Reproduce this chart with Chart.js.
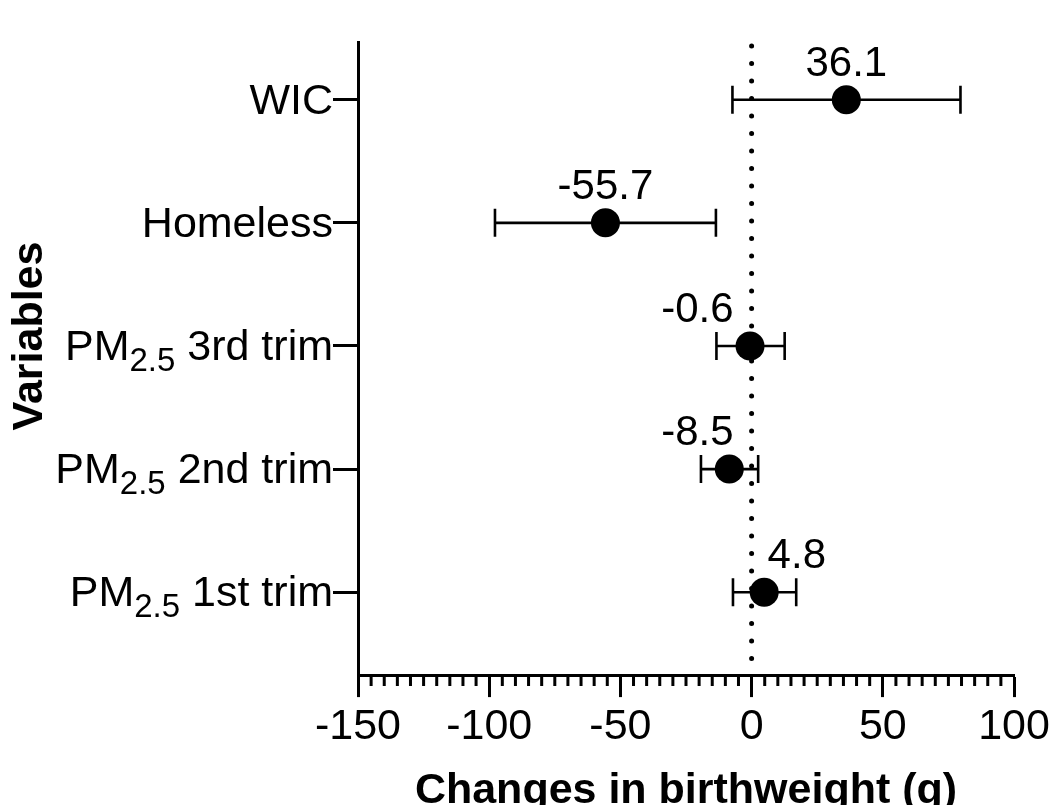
<!DOCTYPE html>
<html>
<head>
<meta charset="utf-8">
<title>Changes in birthweight</title>
<script src="https://cdn.jsdelivr.net/npm/chart.js@4"></script>
<style>
  html, body { margin: 0; padding: 0; background: #fff; }
  #wrap { width: 1051px; height: 805px; }
</style>
</head>
<body>
<div id="wrap"><canvas id="forestChart" width="1051" height="805"></canvas></div>
<script>
// Data
const categories = ['WIC', 'Homeless', 'PM2.5 3rd trim', 'PM2.5 2nd trim', 'PM2.5 1st trim'];
const estimates = [36.1, -55.7, -0.6, -8.5, 4.8];
const lowerCI = [-7.3, -97.8, -13.4, -19.3, -7.1];
const upperCI = [79.6, -13.6, 12.6, 2.5, 17.0];
const xTicks = [-150, -100, -50, 0, 50, 100];
const minorStep = 5;

const FONT = "'Liberation Sans', Arial, sans-serif";

// first category at the top
function rowPos(i) {
    return categories.length - i;
}

// where each value label sits relative to the zero line
const labelSide = ['center', 'center', 'left', 'left', 'right'];

// Draw "PM2.5 ..." with a subscript, right aligned at xr
function drawCategory(ctx, text, xr, yBase) {
    let parts;
    if (text.startsWith('PM2.5')) {
        parts = [
            { t: 'PM', size: 43, dy: 0 },
            { t: '2.5', size: 33, dy: 11 },
            { t: text.slice(5), size: 43, dy: 0 }
        ];
    } else {
        parts = [{ t: text, size: 43, dy: 0 }];
    }
    let total = 0;
    parts.forEach(p => {
        ctx.font = p.size + 'px ' + FONT;
        p.w = ctx.measureText(p.t).width;
        total += p.w;
    });
    let cx = xr - total;
    ctx.textAlign = 'left';
    ctx.textBaseline = 'alphabetic';
    parts.forEach(p => {
        ctx.font = p.size + 'px ' + FONT;
        ctx.fillText(p.t, cx, yBase + p.dy);
        cx += p.w;
    });
}

const forestPlugin = {
    id: 'forest',
    beforeDatasetsDraw(chart) {
        const { ctx, chartArea, scales: { x, y } } = chart;
        const x0 = x.getPixelForValue(0);
        ctx.save();
        ctx.strokeStyle = '#000';

        // dotted line at zero
        ctx.lineWidth = 5;
        ctx.lineCap = 'round';
        ctx.setLineDash([0, 17.5]);
        ctx.beginPath();
        ctx.moveTo(x0, chartArea.top + 4);
        ctx.lineTo(x0, chartArea.bottom - 2);
        ctx.stroke();
        ctx.setLineDash([]);

        // confidence intervals
        ctx.lineWidth = 2.6;
        ctx.lineCap = 'butt';
        categories.forEach((c, i) => {
            const py = y.getPixelForValue(rowPos(i));
            const xl = x.getPixelForValue(lowerCI[i]);
            const xr = x.getPixelForValue(upperCI[i]);
            ctx.beginPath();
            ctx.moveTo(xl, py);
            ctx.lineTo(xr, py);
            ctx.moveTo(xl, py - 14);
            ctx.lineTo(xl, py + 14);
            ctx.moveTo(xr, py - 14);
            ctx.lineTo(xr, py + 14);
            ctx.stroke();
        });
        ctx.restore();
    },
    afterDatasetsDraw(chart) {
        const { ctx, scales: { x, y } } = chart;
        const x0 = x.getPixelForValue(0);
        ctx.save();
        ctx.fillStyle = '#000';
        ctx.font = '42px ' + FONT;
        ctx.textBaseline = 'alphabetic';
        estimates.forEach((v, i) => {
            const py = y.getPixelForValue(rowPos(i));
            let px = x.getPixelForValue(v);
            if (labelSide[i] === 'left') {
                ctx.textAlign = 'right';
                px = x0 - 18;
            } else if (labelSide[i] === 'right') {
                ctx.textAlign = 'left';
                px = x0 + 16;
            } else {
                ctx.textAlign = 'center';
            }
            ctx.fillText(v.toFixed(1), px, py - 24);
        });
        ctx.restore();
    },
    afterDraw(chart) {
        const { ctx, chartArea, scales: { x, y } } = chart;
        ctx.save();
        ctx.strokeStyle = '#000';
        ctx.fillStyle = '#000';

        // minor ticks on the x axis
        ctx.lineWidth = 3;
        ctx.beginPath();
        for (let v = xTicks[0]; v <= xTicks[xTicks.length - 1]; v += minorStep) {
            if (xTicks.includes(v)) continue;
            const px = x.getPixelForValue(v);
            ctx.moveTo(px, chartArea.bottom);
            ctx.lineTo(px, chartArea.bottom + 11);
        }
        ctx.stroke();

        // category labels
        categories.forEach((c, i) => {
            const py = y.getPixelForValue(rowPos(i));
            drawCategory(ctx, c, chartArea.left - 25, py + 14);
        });

        // y axis title
        ctx.translate(30, 336);
        ctx.rotate(-Math.PI / 2);
        ctx.font = 'bold 43px ' + FONT;
        ctx.textAlign = 'center';
        ctx.textBaseline = 'middle';
        ctx.fillText('Variables', 0, 0);
        ctx.restore();
    }
};

new Chart(document.getElementById('forestChart'), {
    type: 'scatter',
    data: {
        datasets: [{
            label: 'Change in birthweight',
            data: estimates.map((v, i) => ({ x: v, y: rowPos(i) })),
            backgroundColor: '#000',
            borderColor: '#000',
            borderWidth: 0,
            pointRadius: 14.5,
            pointHoverRadius: 14.5
        }]
    },
    options: {
        responsive: false,
        animation: false,
        devicePixelRatio: 1,
        layout: {
            padding: { left: 0, right: 37, top: 42, bottom: 1 }
        },
        plugins: {
            legend: { display: false },
            tooltip: { enabled: false }
        },
        scales: {
            x: {
                type: 'linear',
                position: 'bottom',
                min: xTicks[0],
                max: xTicks[xTicks.length - 1],
                afterBuildTicks: scale => {
                    scale.ticks = xTicks.map(v => ({ value: v }));
                },
                afterFit: scale => {
                    // let layout.padding decide the right edge
                    scale.paddingLeft = 0;
                    scale.paddingRight = 0;
                },
                grid: {
                    drawOnChartArea: false,
                    tickLength: 22,
                    tickWidth: 3,
                    tickColor: '#000'
                },
                border: { color: '#000', width: 3 },
                ticks: {
                    color: '#000',
                    font: { size: 43, family: FONT },
                    padding: 4,
                    maxRotation: 0,
                    autoSkip: false
                },
                title: {
                    display: true,
                    text: 'Changes in birthweight (g)',
                    color: '#000',
                    font: { size: 43, weight: 'bold', family: FONT, lineHeight: 0.6 },
                    padding: { top: 21.5, bottom: 0 }
                }
            },
            y: {
                type: 'linear',
                min: 0.327,
                max: 5.469,
                afterBuildTicks: scale => {
                    scale.ticks = categories.map((c, i) => ({ value: rowPos(i) }));
                },
                afterFit: scale => {
                    scale.width = 358;
                },
                ticks: { display: false },
                grid: {
                    drawOnChartArea: false,
                    tickLength: 25,
                    tickWidth: 3,
                    tickColor: '#000'
                },
                border: { color: '#000', width: 3 }
            }
        }
    },
    plugins: [forestPlugin]
});
</script>
</body>
</html>
